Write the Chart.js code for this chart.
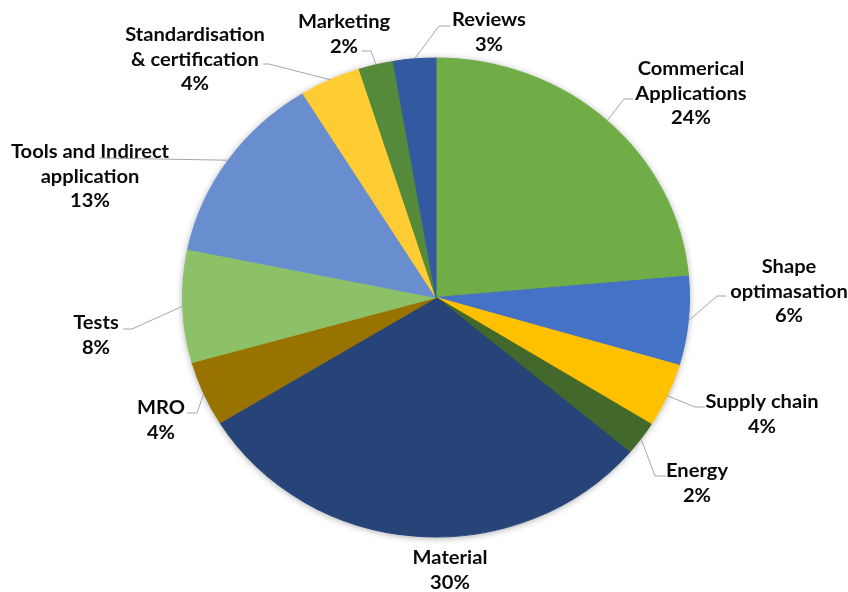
<!DOCTYPE html>
<html>
<head>
<meta charset="utf-8">
<script src="https://cdn.jsdelivr.net/npm/chart.js@4.4.1/dist/chart.umd.min.js"></script>
<style>
  html, body { margin: 0; padding: 0; background: #ffffff; }
  #wrap { width: 848px; height: 592px; position: relative; }
</style>
</head>
<body>
<div id="wrap"><canvas id="c" width="848" height="592"></canvas></div>
<script>
// ---- data ----
const categories = [
  ["Commerical", "Applications"],
  ["Shape", "optimasation"],
  ["Supply chain"],
  ["Energy"],
  ["Material"],
  ["MRO"],
  ["Tests"],
  ["Tools and Indirect", "application"],
  ["Standardisation", "& certification"],
  ["Marketing"],
  ["Reviews"]
];
const shares = [23.6, 6.0, 4.3, 2.3, 30.1, 4.4, 7.6, 13.0, 3.9, 2.2, 2.7];

// ---- styles / layout ----
const sliceColors = [
  "#70AD47", "#4472C4", "#FFC000", "#43682B", "#264478", "#997300",
  "#8CC168", "#698ED0", "#FFCD33", "#558A3A", "#335AA1"
];
// label centre (x, first-line y) and leader line: start x, elbow x, y
const labelLayout = [
  { x: 691, y: 69,  lead: [633, 624, 99] },
  { x: 789, y: 267, lead: [726, 717, 296] },
  { x: 762, y: 402, lead: [705, 695, 407] },
  { x: 697, y: 471, lead: [666, 655, 476] },
  { x: 450, y: 558, lead: null },
  { x: 161, y: 408, lead: [187, 197, 413] },
  { x: 96,  y: 323, lead: [123, 132, 329] },
  { x: 90,  y: 152, lead: [99, 100, 158] },
  { x: 195, y: 35,  lead: [263, 269, 64] },
  { x: 344, y: 22,  lead: [362, 371, 51] },
  { x: 489, y: 20,  lead: [450, 439, 26] }
];
const STRETCH_X = 254 / 240;
const FONT = "bold 19px Lato, 'Open Sans', sans-serif";
const LINE_H = 24.5;

const stretchPlugin = {
  id: 'stretch',
  beforeDatasetsDraw(chart) {
    const arc = chart.getDatasetMeta(0).data[0];
    const ctx = chart.ctx;
    const cx = arc.x, cy = arc.y, r = arc.outerRadius;
    ctx.save();
    ctx.translate(cx, cy);
    ctx.scale(STRETCH_X, 1);
    ctx.translate(-cx, -cy);
    // soft shadow behind the pie
    ctx.save();
    ctx.shadowColor = 'rgba(0,0,0,0.35)';
    ctx.shadowBlur = 7;
    ctx.shadowOffsetY = 1;
    ctx.beginPath();
    ctx.arc(cx, cy, r, 0, Math.PI * 2);
    ctx.fillStyle = '#ffffff';
    ctx.fill();
    ctx.restore();
  },
  afterDatasetsDraw(chart) {
    chart.ctx.restore();
  }
};

const labelPlugin = {
  id: 'outLabels',
  afterDraw(chart) {
    const ctx = chart.ctx;
    const meta = chart.getDatasetMeta(0);
    const data = chart.data.datasets[0].data;
    const total = data.reduce((a, b) => a + b, 0);
    ctx.save();
    ctx.font = FONT;
    ctx.fillStyle = '#0A0A0A';
    ctx.textAlign = 'center';
    ctx.textBaseline = 'middle';
    meta.data.forEach((arc, i) => {
      const lay = labelLayout[i];
      const lines = chart.data.labels[i].slice();
      lines.push(Math.round(data[i] / total * 100) + '%');
      lines.forEach((t, k) => {
        ctx.save();
        ctx.translate(lay.x, lay.y + k * LINE_H);
        ctx.scale(STRETCH_X, 1);
        ctx.fillText(t, 0, 0);
        ctx.restore();
      });
      if (lay.lead) {
        const mid = (arc.startAngle + arc.endAngle) / 2;
        const ax = arc.x + Math.cos(mid) * arc.outerRadius * STRETCH_X;
        const ay = arc.y + Math.sin(mid) * arc.outerRadius;
        ctx.beginPath();
        ctx.strokeStyle = '#A6A6A6';
        ctx.lineWidth = 1;
        ctx.moveTo(lay.lead[0], lay.lead[2]);
        ctx.lineTo(lay.lead[1], lay.lead[2]);
        ctx.lineTo(ax, ay);
        ctx.stroke();
      }
    });
    ctx.restore();
  }
};

new Chart(document.getElementById('c'), {
  type: 'pie',
  data: {
    labels: categories,
    datasets: [{
      data: shares,
      backgroundColor: sliceColors,
      borderColor: sliceColors,
      borderWidth: 1,
      clip: false
    }]
  },
  options: {
    responsive: false,
    animation: false,
    layout: { padding: { top: 57.5, bottom: 54.5, left: 180, right: 156 } },
    plugins: {
      legend: { display: false },
      tooltip: { enabled: false }
    }
  },
  plugins: [stretchPlugin, labelPlugin]
});
</script>
</body>
</html>
